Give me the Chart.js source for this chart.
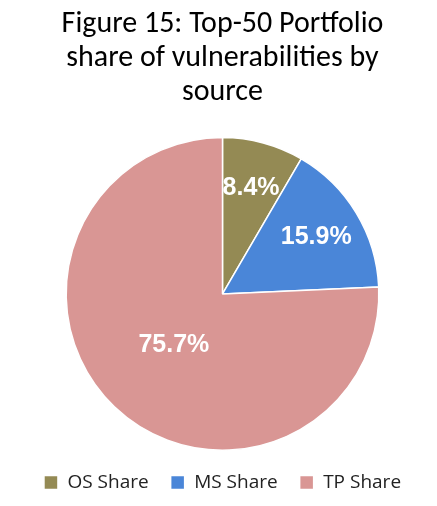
<!DOCTYPE html>
<html>
<head>
<meta charset="utf-8">
<script src="https://cdn.jsdelivr.net/npm/chart.js@4"></script>
<style>
  html, body { margin: 0; padding: 0; background: #fff; }
  #wrap { width: 437px; height: 506px; }
</style>
</head>
<body>
<div id="wrap"><canvas id="pieChart"></canvas></div>
<script>
const categories = ['OS Share', 'MS Share', 'TP Share'];
const shares = [8.4, 15.9, 75.7];
const colors = ['#948A54', '#4A86D8', '#D99694'];

// draws the percentage inside each slice
const sliceLabels = {
    id: 'sliceLabels',
    afterDatasetsDraw(chart) {
        const ctx = chart.ctx;
        const meta = chart.getDatasetMeta(0);
        ctx.save();
        ctx.fillStyle = '#fff';
        ctx.font = 'bold 25px "Liberation Sans", Arial, sans-serif';
        ctx.textAlign = 'center';
        ctx.textBaseline = 'middle';
        meta.data.forEach(function (arc, i) {
            const r = i === 2 ? 0.45 : 0.7;
            const mid = (arc.startAngle + arc.endAngle) / 2;
            const x = arc.x + Math.cos(mid) * arc.outerRadius * r;
            const y = arc.y + Math.sin(mid) * arc.outerRadius * r;
            ctx.fillText(shares[i].toFixed(1) + '%', x, y);
        });
        ctx.restore();
    }
};

new Chart(document.getElementById('pieChart'), {
    type: 'pie',
    data: {
        labels: categories,
        datasets: [{
            data: shares,
            backgroundColor: colors,
            borderColor: '#fff',
            borderWidth: 1.5
        }]
    },
    options: {
        responsive: true,
        maintainAspectRatio: false,
        animation: false,
        layout: { padding: { left: 14, right: 6, top: 0, bottom: 4 } },
        plugins: {
            title: {
                display: true,
                text: ['Figure 15: Top-50 Portfolio', 'share of vulnerabilities by', 'source'],
                color: '#000',
                font: { family: 'Calibri, Carlito, "Open Sans", sans-serif', size: 30, weight: 'normal', lineHeight: 1.12 },
                padding: { top: 8, bottom: 28 }
            },
            legend: {
                position: 'bottom',
                labels: {
                    color: '#222',
                    boxWidth: 14,
                    boxHeight: 14,
                    padding: 22,
                    font: { family: '"Open Sans", sans-serif', size: 19 }
                }
            },
            tooltip: { enabled: false }
        }
    },
    plugins: [sliceLabels]
});
</script>
</body>
</html>
